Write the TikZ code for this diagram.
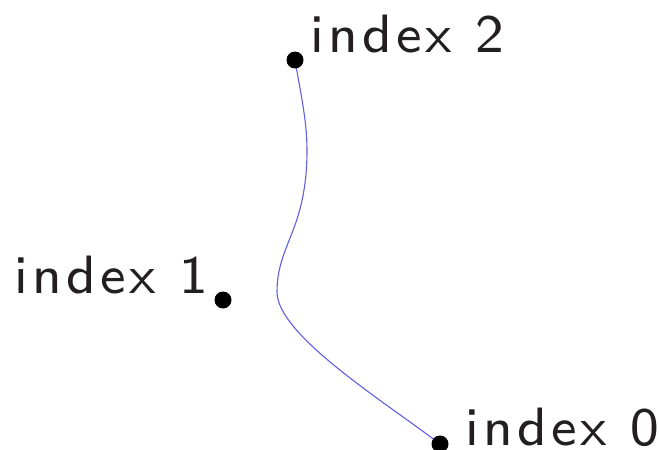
\documentclass[tikz,border=0pt]{standalone}
\usepackage{fontspec}
\usetikzlibrary{backgrounds}
\newfontfamily\lblfont{lmsans8-regular.otf}[LetterSpace=8]
\definecolor{txt}{RGB}{35,31,32}
\definecolor{curve}{RGB}{95,95,225}
\tikzset{
  dot/.style={circle,fill=black,inner sep=0pt,minimum size=17pt},
  lbl/.style={anchor=base west,inner sep=0pt,text=txt,
    font=\lblfont\fontsize{54}{60}\selectfont},
  link/.style={draw=curve,line width=1.1pt}
}
\begin{document}
\begin{tikzpicture}[x=1pt,y=-1pt]
\useasboundingbox (0,0) rectangle (659,450);
\node[dot] (d2) at (295,60) {};
\node[dot] (d1) at (223,300) {};
\node[dot] (d0) at (440,444) {};
\coordinate (a) at (307,150);
\coordinate (b) at (277,292);
\begin{pgfonlayer}{background}
\draw[link] (d2.center) .. controls (300,90) and (307,120) .. (a)
  .. controls (307,230) and (277,244) .. (b)
  .. controls (277,335) and (385,402) .. (d0.center);
\end{pgfonlayer}
\node[lbl] (l2) at (310,52.7) {index 2};
\node[lbl] (l1) at (14,293) {index 1};
\node[lbl] (l0) at (465,445) {index 0};
\end{tikzpicture}
\end{document}
